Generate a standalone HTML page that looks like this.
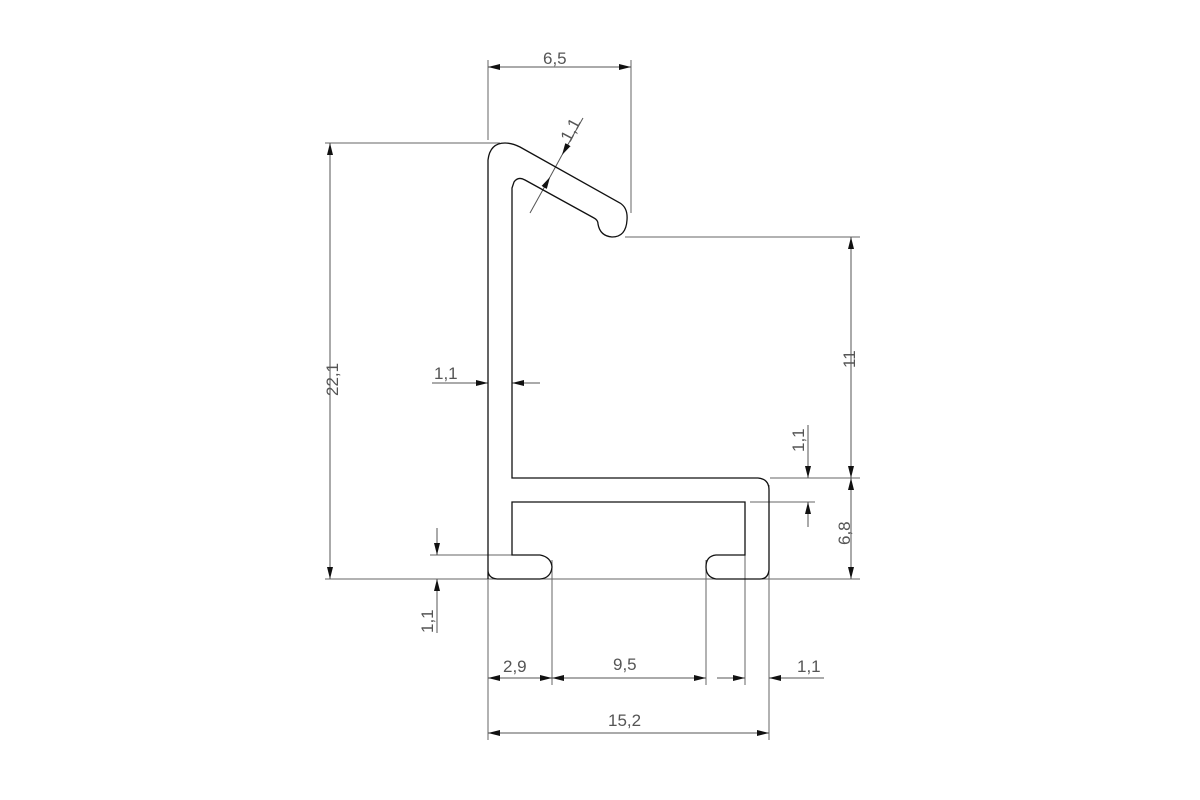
<!DOCTYPE html>
<html><head><style>
html,body{margin:0;padding:0;background:#fff;}
svg{display:block}
text{font-family:"Liberation Sans",sans-serif;fill:#555;font-size:17px}
</style></head><body>
<svg width="1200" height="800" viewBox="0 0 1200 800" xmlns="http://www.w3.org/2000/svg">
<defs>
<marker id="a" viewBox="0 0 12 6" refX="12" refY="3" markerWidth="12" markerHeight="6" orient="auto-start-reverse" markerUnits="userSpaceOnUse"><path d="M0,0 L12,3 L0,6 z" fill="#111"/></marker>
</defs>
<g stroke="#666" stroke-width="1" fill="none">
<!-- extension lines -->
<line x1="488" y1="60" x2="488" y2="140"/>
<line x1="631" y1="60" x2="631" y2="213"/>
<line x1="325" y1="143" x2="500" y2="143"/>
<line x1="625" y1="237" x2="860" y2="237"/>
<line x1="325" y1="579" x2="860" y2="579"/>
<line x1="770" y1="478" x2="860" y2="478"/>
<line x1="750" y1="502" x2="815" y2="502"/>
<line x1="430" y1="555" x2="512" y2="555"/>
<line x1="488" y1="579" x2="488" y2="740"/>
<line x1="552" y1="560" x2="552" y2="685"/>
<line x1="706" y1="560" x2="706" y2="685"/>
<line x1="745" y1="502" x2="745" y2="685"/>
<line x1="769" y1="485" x2="769" y2="740"/>
</g>
<g stroke="#555" stroke-width="1" fill="none">
<line x1="488" y1="67" x2="631" y2="67" marker-start="url(#a)" marker-end="url(#a)"/>
<line x1="330" y1="143" x2="330" y2="579" marker-start="url(#a)" marker-end="url(#a)"/>
<line x1="851" y1="237" x2="851" y2="478" marker-start="url(#a)" marker-end="url(#a)"/>
<line x1="851" y1="478" x2="851" y2="579" marker-start="url(#a)" marker-end="url(#a)"/>
<line x1="808" y1="425" x2="808" y2="478" marker-end="url(#a)"/>
<line x1="808" y1="527" x2="808" y2="502" marker-end="url(#a)"/>
<line x1="437" y1="528" x2="437" y2="555" marker-end="url(#a)"/>
<line x1="437" y1="633" x2="437" y2="579" marker-end="url(#a)"/>
<line x1="432" y1="383" x2="488" y2="383" marker-end="url(#a)"/>
<line x1="540" y1="383" x2="512" y2="383" marker-end="url(#a)"/>
<line x1="583" y1="118" x2="562" y2="155" marker-end="url(#a)"/>
<line x1="530" y1="213" x2="550" y2="177" marker-end="url(#a)"/>
<line x1="562" y1="155" x2="550" y2="177"/>
<line x1="488" y1="678" x2="552" y2="678" marker-start="url(#a)" marker-end="url(#a)"/>
<line x1="552" y1="678" x2="706" y2="678" marker-start="url(#a)" marker-end="url(#a)"/>
<line x1="717" y1="678" x2="745" y2="678" marker-end="url(#a)"/>
<line x1="824" y1="678" x2="769" y2="678" marker-end="url(#a)"/>
<line x1="488" y1="733" x2="769" y2="733" marker-start="url(#a)" marker-end="url(#a)"/>
</g>
<!-- profile -->
<g stroke="#111" stroke-width="1.3" fill="none">
<path d="M488,579 L488,160 Q490,143 505,143 Q512,143 520,147 L620,203 Q628,208 627,220 Q626,237 612,237 Q600,236 598,224 Q598,220 594,218 L525,180 Q518,176 514,182 L512,188 L512,478 L758,478 Q769,479 769,490 L769,570 Q768,579 760,579 L716,579 Q706,577 706,567 Q706,556 716,555 L745,555 L745,502 L512,502 L512,555 L540,555 Q551,557 552,567 Q551,578 540,579 L497,579 Q488,578 488,570"/>
</g>
<text x="543" y="64">6,5</text>
<text x="434" y="379">1,1</text>
<text x="0" y="0" transform="translate(338,396) rotate(-90)" font-size="19">22,1</text>
<text x="0" y="0" transform="translate(855,368) rotate(-90)">11</text>
<text x="0" y="0" transform="translate(804,452) rotate(-90)">1,1</text>
<text x="0" y="0" transform="translate(850,545) rotate(-90)" font-size="19">6,8</text>
<text x="0" y="0" transform="translate(433,633) rotate(-90)">1,1</text>
<text x="0" y="0" transform="translate(570,143) rotate(-62)">1,1</text>
<text x="503" y="672">2,9</text>
<text x="613" y="670" font-size="19">9,5</text>
<text x="797" y="672">1,1</text>
<text x="608" y="726" font-size="19">15,2</text>
</svg>
</body></html>
